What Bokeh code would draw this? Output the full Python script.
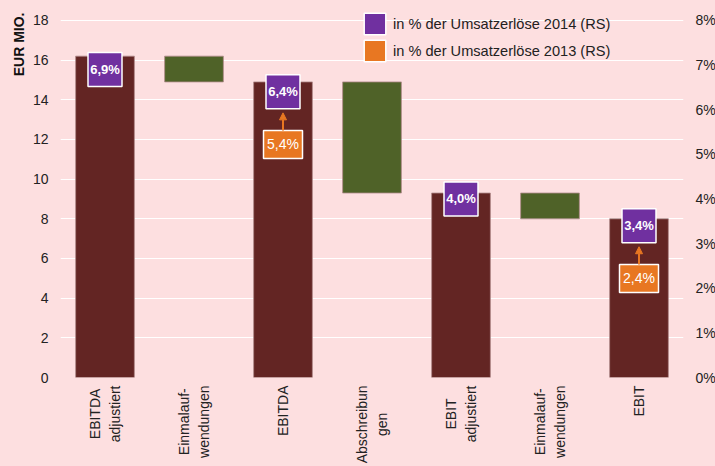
import math
from bokeh.plotting import figure
from bokeh.layouts import column
from bokeh.models import (Range1d, LinearAxis, FixedTicker, ColumnDataSource, Arrow,
                          NormalHead, Legend, LegendItem, Title)
from bokeh.core.properties import value
from bokeh.embed import file_html
from bokeh.resources import INLINE

# ---------------- data ----------------
categories = ["EBITDA\nadjustiert", "Einmalauf-\nwendungen", "EBITDA", "Abschreibun\ngen",
              "EBIT\nadjustiert", "Einmalauf-\nwendungen", "EBIT"]
kinds = ["total", "delta", "total", "delta", "total", "delta", "total"]
amounts = [16.2, -1.3, 14.9, -5.6, 9.3, -1.3, 8.0]

pct_pos_2014 = [0, 2, 4, 6]
pct_2014 = [6.9, 6.4, 4.0, 3.4]
pct_pos_2013 = [2, 6]
pct_2013 = [5.4, 2.4]

y_ticks = [0, 2, 4, 6, 8, 10, 12, 14, 16, 18]
pct_ticks = [0, 1, 2, 3, 4, 5, 6, 7, 8]

# ---------------- style ----------------
BG = "#FDDFE0"
RED = "#632523"
GREEN = "#4F6228"
PURPLE = "#7030A0"
ORANGE = "#E87722"
FONT = "Liberation Sans"
TXT = "#222222"

Y_MAX = 18.4
PCT_MAX = Y_MAX * 8 / 18
FRAME_W = 623
FRAME_H = 365
BOTTOM_PAD = 8
STRIP_H = 81
px_per_pct = FRAME_H / PCT_MAX
ORANGE_SHIFT = 8  # px the orange boxes sit below their value

# waterfall geometry
bottoms, tops, colors = [], [], []
running = 0.0
for k, a in zip(kinds, amounts):
    if k == "total":
        bottoms.append(0.0); tops.append(a); colors.append(RED); running = a
    else:
        tops.append(running); bottoms.append(running + a); colors.append(GREEN); running = running + a

xs = list(range(len(categories)))
bar_src = ColumnDataSource(dict(x=xs, bottom=bottoms, top=tops, color=colors))

p = figure(x_range=Range1d(-0.5, len(categories) - 0.5), y_range=Range1d(0, Y_MAX),
           frame_width=FRAME_W, frame_height=FRAME_H, x_axis_type=None,
           min_border_left=60, min_border_right=32, min_border_top=12,
           min_border_bottom=BOTTOM_PAD,
           output_backend="svg", toolbar_location=None,
           background_fill_color=BG, border_fill_color=BG, outline_line_color=None)

p.extra_y_ranges = {"pct": Range1d(0, PCT_MAX)}

p.vbar(x="x", bottom="bottom", top="top", width=0.66, fill_color="color",
       line_color="#B08A8A", line_width=0.8, source=bar_src)

# arrows (orange -> purple)
arrow_x, arrow_y0, arrow_y1 = [], [], []
for pos, v13 in zip(pct_pos_2013, pct_2013):
    v14 = pct_2014[pct_pos_2014.index(pos)]
    arrow_x.append(pos)
    arrow_y0.append(v13 + (14 - ORANGE_SHIFT) / px_per_pct)
    arrow_y1.append(v14 - (17 + 4) / px_per_pct)
arr_src = ColumnDataSource(dict(x=arrow_x, y0=arrow_y0, y1=arrow_y1))
p.add_layout(Arrow(end=NormalHead(size=7, fill_color=ORANGE, line_color=ORANGE, line_width=1),
                   x_start="x", y_start="y0", x_end="x", y_end="y1",
                   line_color=ORANGE, line_width=2, y_range_name="pct", source=arr_src))

# percent boxes
src14 = ColumnDataSource(dict(x=pct_pos_2014, y=pct_2014,
                              t=[f"{v:.1f}%".replace(".", ",") for v in pct_2014]))
src13 = ColumnDataSource(dict(x=pct_pos_2013,
                              y=[v - ORANGE_SHIFT / px_per_pct for v in pct_2013],
                              t=[f"{v:.1f}%".replace(".", ",") for v in pct_2013]))

r14 = p.rect(x="x", y="y", width=34, height=34, width_units="screen", height_units="screen",
             fill_color=PURPLE, line_color="white", line_width=1.5, y_range_name="pct", source=src14)
r13 = p.rect(x="x", y="y", width=39, height=28, width_units="screen", height_units="screen",
             fill_color=ORANGE, line_color="white", line_width=1.5, y_range_name="pct", source=src13)
p.text(x="x", y="y", text="t", text_color="white", text_font=value(FONT), text_font_size="13px",
       text_font_style="bold", text_align="center", text_baseline="middle",
       y_range_name="pct", source=src14)
p.text(x="x", y="y", text="t", text_color="white", text_font=value(FONT), text_font_size="14px",
       text_align="center", text_baseline="middle", y_range_name="pct", source=src13)

# legend
legend = Legend(items=[LegendItem(label="in % der Umsatzerlöse 2014 (RS)", renderers=[r14]),
                       LegendItem(label="in % der Umsatzerlöse 2013 (RS)", renderers=[r13])],
                location=(301, FRAME_H - 52), glyph_width=27, glyph_height=27, spacing=-2,
                padding=0, margin=0, label_standoff=5, label_text_font=FONT,
                label_text_font_size="14.6px", label_text_color=TXT,
                background_fill_alpha=0, border_line_color=None)
p.add_layout(legend, "center")

# axes
p.xgrid.grid_line_color = None
p.ygrid.grid_line_color = "white"
p.ygrid.grid_line_width = 1.2
p.ygrid.ticker = FixedTicker(ticks=y_ticks)

yl = p.yaxis[0]
yl.ticker = FixedTicker(ticks=y_ticks)
yr = LinearAxis(y_range_name="pct", ticker=FixedTicker(ticks=pct_ticks),
                major_label_overrides={t: f"{t}%" for t in pct_ticks})
p.add_layout(yr, "right")

for ax in (yl, yr):
    ax.axis_line_color = None
    ax.major_tick_line_color = None
    ax.minor_tick_line_color = None
    ax.major_tick_out = 0
    ax.major_tick_in = 0
    ax.major_label_text_font = FONT
    ax.major_label_text_color = TXT
    ax.major_label_text_font_size = "14px"
    ax.major_label_standoff = 12

p.add_layout(Title(text="EUR MIO.", align="right", standoff=5, text_font=FONT,
                   text_font_size="14px", text_font_style="bold", text_color="#111111"), "left")

# category label strip (shares the x range), rotated, lines centred
strip = figure(x_range=p.x_range, y_range=Range1d(-STRIP_H, 0),
               frame_width=FRAME_W, frame_height=STRIP_H, x_axis_type=None, y_axis_type=None,
               min_border_left=60, min_border_right=32, min_border_top=0, min_border_bottom=0,
               output_backend="svg", toolbar_location=None,
               background_fill_color=BG, border_fill_color=BG, outline_line_color=None)
strip.text(x=xs, y=[0] * len(xs), text=categories, angle=math.pi / 2, anchor="center_right",
           y_offset=0, text_align="center", text_font=value(FONT), text_font_size="14px",
           text_color=TXT, text_line_height=1.25)

layout = column(p, strip, spacing=0)
html = file_html(layout, INLINE)
html = html.replace("</head>",
                    "<style>html, body { background: %s !important; }</style></head>" % BG, 1)
open("out.html", "w").write(html)
